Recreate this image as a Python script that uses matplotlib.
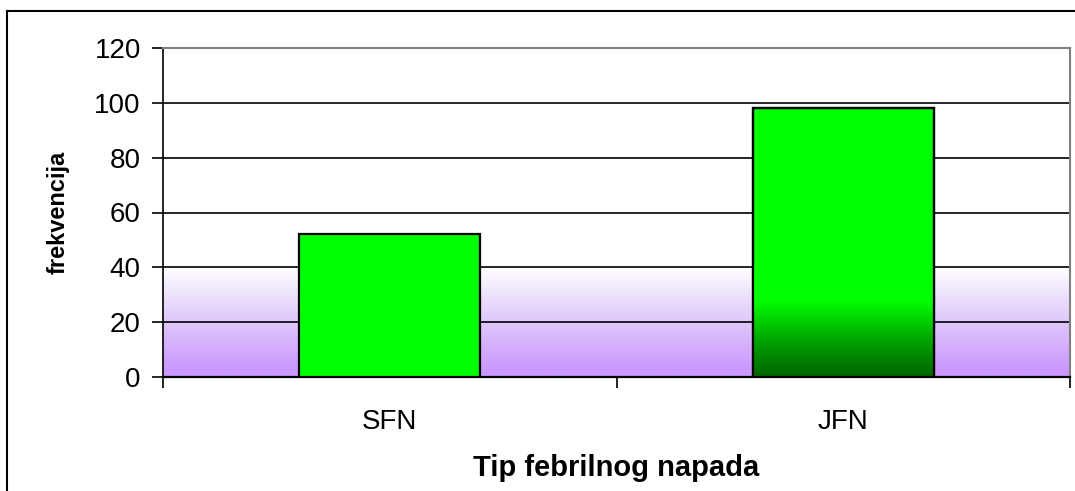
import matplotlib.pyplot as plt
import numpy as np
from matplotlib.colors import LinearSegmentedColormap
from matplotlib.lines import Line2D

plt.rcParams["font.family"] = ["Liberation Sans", "DejaVu Sans"]

# podaci
categories = ["SFN", "JFN"]
values = [52, 98]
y_ticks = [0, 20, 40, 60, 80, 100, 120]

fig = plt.figure(figsize=(10.75, 4.91), dpi=100)
ax = fig.add_axes([163 / 1075, 1 - 377 / 491, (1070 - 163) / 1075, (377 - 48) / 491])

# pozadina s gradijentom (ljubičasto -> bijelo)
bg_cmap = LinearSegmentedColormap.from_list(
    "bg",
    [(0.0, (0.80, 0.60, 1.0)), (0.08, (0.80, 0.60, 1.0)),
     (0.5, (0.87, 0.78, 0.98)), (1.0, (1.0, 1.0, 1.0))],
)
grad = np.linspace(0, 1, 256).reshape(-1, 1)
ax.imshow(grad, extent=(-0.5, 1.5, 0, 40), origin="lower", cmap=bg_cmap,
          aspect="auto", zorder=0)

ax.set_axisbelow(True)
ax.yaxis.grid(True, color="black", linewidth=1.2, zorder=1)

bars = ax.bar(range(len(categories)), values, width=0.4, color="#00ff00",
              edgecolor="black", linewidth=1.6, zorder=3)

# gradijent na drugom stupcu (JFN)
bar_cmap = LinearSegmentedColormap.from_list(
    "bar", [(0.0, "#006400"), (0.35, "#00a800"), (0.7, "#00ff00"), (1.0, "#00ff00")]
)
b = bars[1]
x0, w = b.get_x(), b.get_width()
im = ax.imshow(grad, extent=(x0, x0 + w, 0, 40), origin="lower", cmap=bar_cmap,
               aspect="auto", zorder=3.5)
im.set_clip_path(b)
ax.add_patch(plt.Rectangle((x0, 0), w, values[1], fill=False,
                           edgecolor="black", linewidth=1.6, zorder=4))

ax.set_xlim(-0.5, 1.5)
ax.set_ylim(0, 120)
ax.set_yticks(y_ticks)
ax.tick_params(axis="y", labelsize=20, length=8, width=1.2, direction="out", pad=8)
ax.set_xticks([-0.5, 0.5, 1.5])
ax.set_xticklabels([])
ax.set_xticks([0, 1], minor=True)
ax.set_xticklabels(categories, minor=True)
ax.tick_params(axis="x", which="major", length=8, width=1.2, direction="out")
ax.tick_params(axis="x", which="minor", length=0, labelsize=20, pad=23)

ax.spines["left"].set_color("black")
ax.spines["left"].set_linewidth(1.2)
ax.spines["bottom"].set_color("black")
ax.spines["bottom"].set_linewidth(1.6)
ax.spines["top"].set_color("#808080")
ax.spines["right"].set_color("#808080")
ax.spines["top"].set_linewidth(1.5)
ax.spines["right"].set_linewidth(1.5)

ax.set_ylabel("frekvencija", fontsize=17, fontweight="bold", labelpad=18)
ax.set_xlabel("Tip febrilnog napada", fontsize=21, fontweight="bold", labelpad=14)

# vanjski okvir
fig.add_artist(Line2D([7 / 1075, 7 / 1075], [0, 1 - 11 / 491], color="black", linewidth=1.5))
fig.add_artist(Line2D([7 / 1075, 1], [1 - 11 / 491, 1 - 11 / 491], color="black", linewidth=1.5))

fig.savefig("out.png", dpi=100)
